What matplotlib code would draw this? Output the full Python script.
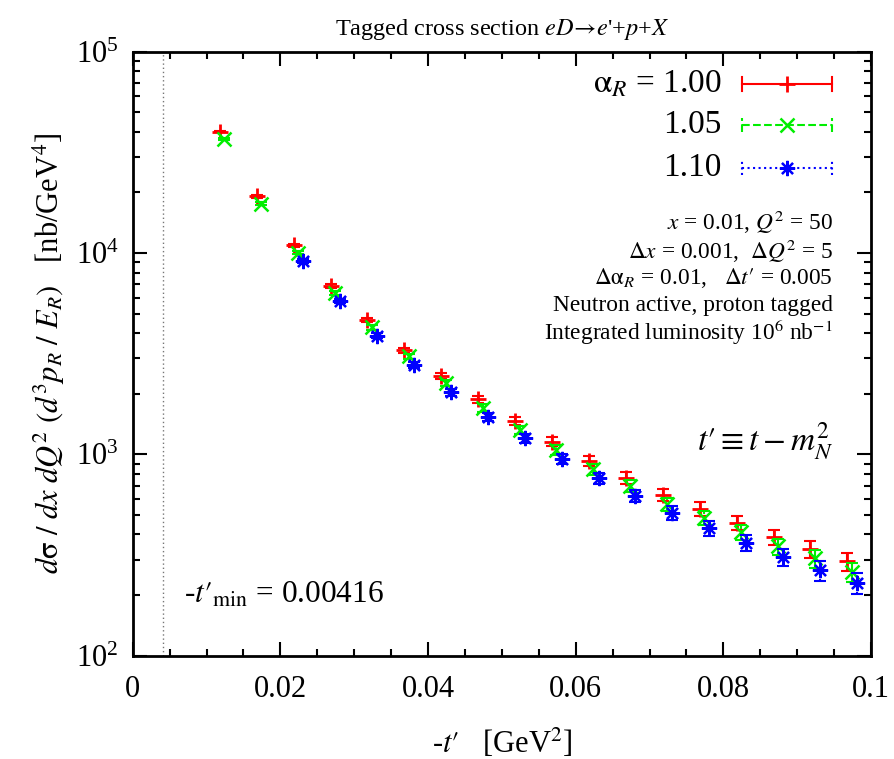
import numpy as np
import matplotlib
matplotlib.use('Agg')
import matplotlib.pyplot as plt
from matplotlib.lines import Line2D

plt.rcParams['font.family'] = ['Liberation Serif', 'DejaVu Serif']
plt.rcParams['mathtext.fontset'] = 'stix'

# -t' positions (GeV^2), each alpha_R series drawn slightly shifted
t_100 = [0.0118, 0.0168, 0.0218, 0.0268, 0.0318, 0.0368, 0.0418, 0.0468, 0.0518,
         0.0568, 0.0618, 0.0668, 0.0718, 0.0768, 0.0818, 0.0868, 0.0918, 0.0968]
t_105 = [0.0124, 0.0174, 0.0224, 0.0274, 0.0324, 0.0374, 0.0424, 0.0474, 0.0524,
         0.0574, 0.0624, 0.0674, 0.0724, 0.0774, 0.0824, 0.0874, 0.0924, 0.0974]
t_110 = [0.0231, 0.0281, 0.0331, 0.0381, 0.0431, 0.0481, 0.0531,
         0.0581, 0.0631, 0.0681, 0.0731, 0.0781, 0.0831, 0.0881, 0.0931, 0.0981]

# cross section [nb/GeV^4]
sig_100 = [40100, 19100, 10900, 6840, 4640, 3290, 2450, 1880, 1470,
           1156, 931, 764, 629, 536, 457, 388, 340, 294]
sig_105 = [36900, 17600, 10050, 6360, 4270, 3065, 2260, 1700, 1326,
           1051, 846, 695, 568, 484, 412, 349, 305, 260]
sig_110 = [9130, 5780, 3880, 2775, 2040, 1532, 1206,
           949, 761, 624, 512, 430, 364, 309, 265, 230]

# statistical errors
err_100 = [357, 246, 186, 147, 121, 102, 88, 77, 68, 61, 54, 49, 45, 41, 38, 35, 33, 31]
err_105 = [343, 237, 179, 142, 116, 99, 85, 73, 65, 58, 52, 47, 42, 39, 36, 33, 31, 29]
err_110 = [170, 136, 111, 94, 81, 70, 62, 55, 49, 45, 40, 37, 34, 31, 29, 27]

t_min = 0.00416
colors = ['#ff0000', '#00ee00', '#0000ff']

fig = plt.figure(figsize=(8.94, 7.59), dpi=100)
ax = fig.add_axes([0.1484, 0.1361, 0.8259, 0.7958])

ax.axvline(t_min, color='#777777', ls=(0, (1, 2)), lw=1)

series = [(t_100, sig_100, err_100, '+', '-', 11, 2.0),
          (t_105, sig_105, err_105, 'x', '--', 10, 1.8),
          (t_110, sig_110, err_110, (8, 2, 0), ':', 11, 1.6)]
for (t, s, e, mk, ls, ms, mew), c in zip(series, colors):
    _, caps, bars = ax.errorbar(t, s, yerr=e, fmt='none', ecolor=c, elinewidth=1.5,
                                capsize=4, capthick=1.5)
    for b in bars:
        b.set_linestyle(ls)
    ax.plot(t, s, ls='none', marker=mk, ms=ms, mew=mew, color=c)

ax.set_yscale('log')
ax.set_xlim(0, 0.1)
ax.set_ylim(1e2, 1e5)
ax.set_xticks([0, 0.02, 0.04, 0.06, 0.08, 0.1])
ax.set_xticklabels(['0', '0.02', '0.04', '0.06', '0.08', '0.1'])
ax.set_xticks(np.arange(0, 0.1, 0.005), minor=True)
ax.tick_params(which='both', direction='in', top=True, right=True, width=1.5)
ax.tick_params(which='major', length=10, labelsize=22)
ax.tick_params(axis='x', which='major', pad=14)
ax.tick_params(axis='y', which='major', pad=10)
ax.tick_params(which='minor', length=5)
for sp in ax.spines.values():
    sp.set_linewidth(2)

ax.set_xlabel(r"-$t\prime$   [GeV$^2$]", fontsize=22, labelpad=16)
ax.set_ylabel(r"$d\mathrm{\sigma}\ /\ dx\ dQ^2\ (d^3p_R\ /\ E_R)$   [nb/GeV$^4$]", fontsize=22, labelpad=6)
ax.set_title(r"Tagged cross section $eD\!\rightarrow\!e$'+$p$+$X$", fontsize=17.5, pad=12)

# legend drawn gnuplot style
leg_y = [0.9465, 0.8786, 0.8074]
leg_txt = [r'$\mathrm{\alpha}_R$ = 1.00', '1.05', '1.10']
for (t, s, e, mk, ls, ms, mew), c, y, txt in zip(series, colors, leg_y, leg_txt):
    ax.text(0.798, y, txt, transform=ax.transAxes, ha='right', va='center', fontsize=24)
    ax.add_line(Line2D([0.825, 0.947], [y, y], transform=ax.transAxes, color=c, ls=ls, lw=1.5))
    for xe in (0.825, 0.947):
        ax.add_line(Line2D([xe, xe], [y - 0.012, y + 0.012], transform=ax.transAxes,
                           color=c, ls=ls, lw=1.5))
    ax.add_line(Line2D([0.886], [y], transform=ax.transAxes, color=c, marker=mk,
                       ms=ms, mew=mew, ls='none'))

info = [r'$x$ = 0.01, $Q^2$ = 50',
        r'$\Delta x$ = 0.001,  $\Delta Q^2$ = 5',
        r'$\Delta\mathrm{\alpha}_R$ = 0.01,   $\Delta t\prime$ = 0.005',
        'Neutron active, proton tagged',
        r'Integrated luminosity 10$^6$ nb$^{-1}$']
info_y = [0.7181, 0.670, 0.6253, 0.5806, 0.536]
for txt, y in zip(info, info_y):
    ax.text(0.9485, y, txt, transform=ax.transAxes, ha='right', va='center', fontsize=16.8)

ax.text(0.9485, 0.357, r"$t\prime \equiv t - m_N^2$", transform=ax.transAxes,
        ha='right', va='center', fontsize=24)
ax.text(0.070, 0.100, r"-$t\prime_{\mathrm{min}}$ = 0.00416", transform=ax.transAxes,
        ha='left', va='center', fontsize=22.5)

fig.savefig('out.png', dpi=100)
